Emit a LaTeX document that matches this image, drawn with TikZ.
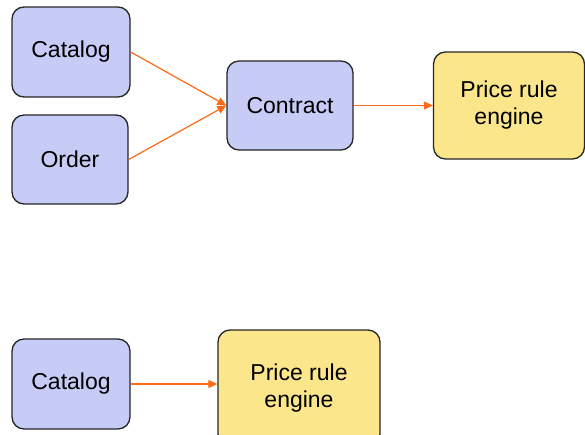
\documentclass[tikz,border=0pt]{standalone}
\usepackage{fontspec}
\setmainfont{Liberation Sans}
\usetikzlibrary{arrows.meta}
\definecolor{boxblue}{HTML}{C6CCF6}
\definecolor{boxyellow}{HTML}{FBE68C}
\definecolor{arrorange}{HTML}{FF6A14}
\tikzset{
  box/.style={draw=black!85, line width=1.3pt, rounded corners=12pt, align=center,
    inner sep=0pt, font=\fontsize{23}{27}\selectfont},
  bluebox/.style={box, fill=boxblue},
  yellowbox/.style={box, fill=boxyellow},
  flow/.style={draw=arrorange, line width=1.2pt, -{Triangle[length=9pt,width=8pt]}}
}
\begin{document}
\begin{tikzpicture}[x=1pt,y=-1pt]
\useasboundingbox (0,0) rectangle (585,434);
\clip (0,0) rectangle (585,434);
\node[bluebox, minimum width=118pt, minimum height=90pt] (cat1) at (71,52) {Catalog};
\node[bluebox, minimum width=116pt, minimum height=89pt] (ord) at (70,159.5) {Order};
\node[bluebox, minimum width=126pt, minimum height=89pt] (con) at (290,105.5) {Contract};
\node[yellowbox, minimum width=151pt, minimum height=107pt] (pre1) at (509,105.5) {Price rule\\engine};
\node[bluebox, minimum width=118pt, minimum height=90pt] (cat2) at (71,384) {Catalog};
\node[yellowbox, minimum width=162pt, minimum height=116pt] (pre2) at (299,388) {Price rule\\engine};
\coordinate (conw) at (con.west);
\draw[flow] (cat1.east) -- (conw);
\draw[flow] (ord.east) -- (conw);
\draw[flow] (con.east) -- (pre1.west);
\draw[flow] (cat2.east) -- (cat2.east -| pre2.west);
\end{tikzpicture}
\end{document}
